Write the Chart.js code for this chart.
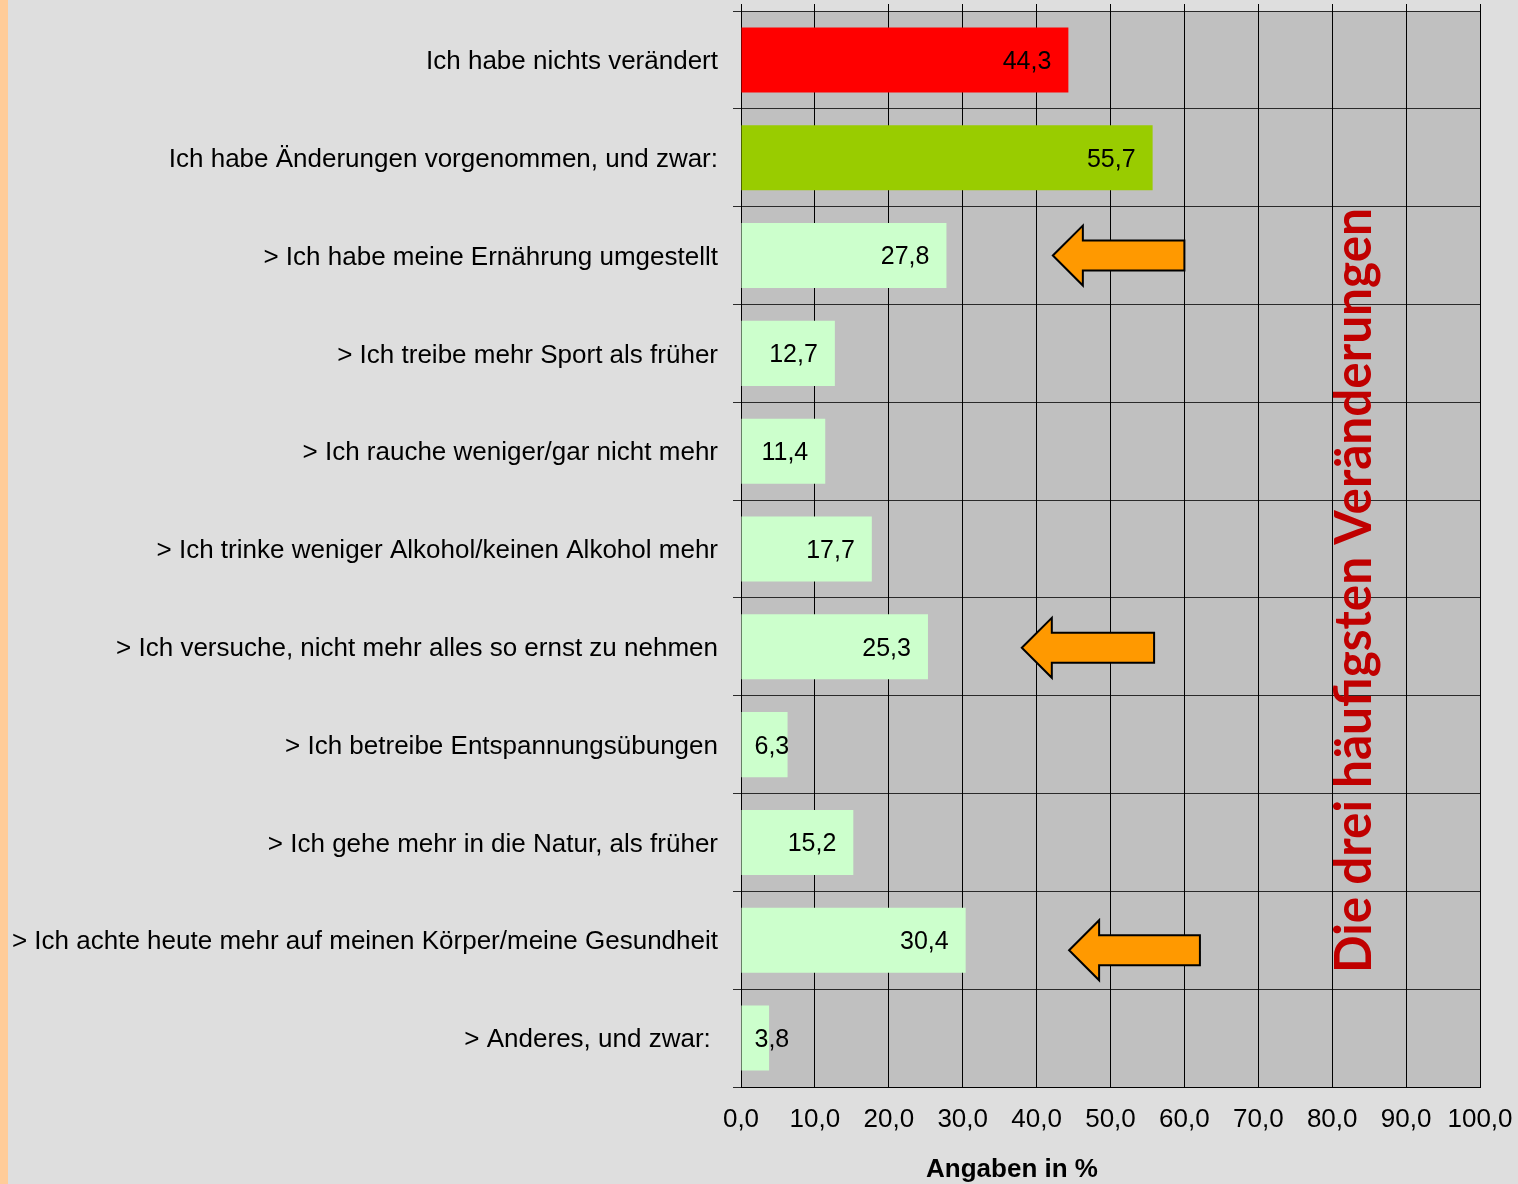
<!DOCTYPE html>
<html>
<head>
<meta charset="utf-8">
<script src="https://cdn.jsdelivr.net/npm/chart.js@4"></script>
<style>
  html, body { margin: 0; padding: 0; background: #DEDEDE; }
  #wrap { width: 1518px; height: 1184px; position: relative; }
</style>
</head>
<body>
<div id="wrap"><canvas id="c" width="1518" height="1184"></canvas></div>
<script>
// ---- data ----
const categories = [
  "Ich habe nichts verändert",
  "Ich habe Änderungen vorgenommen, und zwar:",
  "> Ich habe meine Ernährung umgestellt",
  "> Ich treibe mehr Sport als früher",
  "> Ich rauche weniger/gar nicht mehr",
  "> Ich trinke weniger Alkohol/keinen Alkohol mehr",
  "> Ich versuche, nicht mehr alles so ernst zu nehmen",
  "> Ich betreibe Entspannungsübungen",
  "> Ich gehe mehr in die Natur, als früher",
  "> Ich achte heute mehr auf meinen Körper/meine Gesundheit",
  "> Anderes, und zwar: "
];
const values = [44.3, 55.7, 27.8, 12.7, 11.4, 17.7, 25.3, 6.3, 15.2, 30.4, 3.8];
const barColors = ["#FF0000", "#99CC00", "#CCFFCC", "#CCFFCC", "#CCFFCC", "#CCFFCC",
                   "#CCFFCC", "#CCFFCC", "#CCFFCC", "#CCFFCC", "#CCFFCC"];
const xTicksMin = 0, xTicksMax = 100, xTickStep = 10;
const axisTitle = "Angaben in %";
const sideNote = "Die drei häufigsten Veränderungen";
const highlightedRows = [2, 6, 9];

const fmt = v => v.toFixed(1).replace('.', ',');
const FONT = "'Liberation Sans', Arial, sans-serif";

const bgPlugin = {
  id: 'bg',
  beforeDraw(chart) {
    const { ctx, chartArea: a } = chart;
    ctx.save();
    ctx.fillStyle = '#DEDEDE';
    ctx.fillRect(0, 0, chart.width, chart.height);
    ctx.fillStyle = '#FFCC99';
    ctx.fillRect(0, 0, 8, chart.height);
    ctx.fillStyle = '#C0C0C0';
    ctx.fillRect(a.left, a.top, a.right - a.left, a.bottom - a.top);
    ctx.restore();
  }
};

const labelPlugin = {
  id: 'vals',
  afterDatasetsDraw(chart) {
    const { ctx } = chart;
    const meta = chart.getDatasetMeta(0);
    ctx.save();
    ctx.font = `25px ${FONT}`;
    ctx.fillStyle = '#000';
    ctx.textBaseline = 'middle';
    ctx.textAlign = 'left';
    meta.data.forEach((bar, i) => {
      const txt = fmt(values[i]);
      const w = ctx.measureText(txt).width;
      let left = bar.x - 17 - w;
      const minLeft = bar.base + 13;
      if (left < minLeft) left = minLeft;
      ctx.fillText(txt, left, bar.y + 2);
    });
    ctx.restore();
  }
};

const annoPlugin = {
  id: 'anno',
  afterDraw(chart) {
    const { ctx, scales } = chart;
    const xs = scales.x, ys = scales.y;
    const arrows = [
      { row: highlightedRows[0], tip: 42.2, tail: 60.0, dy: 0 },
      { row: highlightedRows[1], tip: 38.0, tail: 55.9, dy: 1 },
      { row: highlightedRows[2], tip: 44.4, tail: 62.1, dy: 10 }
    ];
    ctx.save();
    arrows.forEach(a => {
      const cy = ys.getPixelForValue(a.row) + a.dy;
      const xt = xs.getPixelForValue(a.tip);
      const xe = xs.getPixelForValue(a.tail);
      const hl = 30, hh = 30, sh = 15;
      ctx.beginPath();
      ctx.moveTo(xt, cy);
      ctx.lineTo(xt + hl, cy - hh);
      ctx.lineTo(xt + hl, cy - sh);
      ctx.lineTo(xe, cy - sh);
      ctx.lineTo(xe, cy + sh);
      ctx.lineTo(xt + hl, cy + sh);
      ctx.lineTo(xt + hl, cy + hh);
      ctx.closePath();
      ctx.fillStyle = '#FF9900';
      ctx.fill();
      ctx.lineWidth = 2;
      ctx.strokeStyle = '#000';
      ctx.stroke();
    });
    ctx.font = `bold 51px Lato, 'Open Sans', sans-serif`;
    const w = ctx.measureText(sideNote).width;
    const target = 765;
    ctx.translate(1371, 973);
    ctx.rotate(-Math.PI / 2);
    ctx.scale(target / w, 1);
    ctx.fillStyle = '#C00000';
    ctx.textAlign = 'left';
    ctx.textBaseline = 'alphabetic';
    ctx.fillText(sideNote, 0, 0);
    ctx.restore();
    ctx.save();
    ctx.font = `bold 26px ${FONT}`;
    ctx.fillStyle = '#000';
    ctx.textAlign = 'center';
    ctx.textBaseline = 'middle';
    ctx.fillText(axisTitle, 1012, 1170);
    ctx.restore();
  }
};

new Chart(document.getElementById('c'), {
  type: 'bar',
  data: {
    labels: categories,
    datasets: [{
      data: values,
      backgroundColor: barColors,
      borderWidth: 0,
      barPercentage: 0.665,
      categoryPercentage: 1.0
    }]
  },
  options: {
    indexAxis: 'y',
    responsive: false,
    animation: false,
    devicePixelRatio: 1,
    layout: { padding: { left: 0, right: 38, top: 4, bottom: 0 } },
    plugins: { legend: { display: false }, tooltip: { enabled: false } },
    scales: {
      y: {
        type: 'category',
        grid: { offset: true, color: '#2a2a2a', lineWidth: 1, tickLength: 8, drawTicks: true },
        border: { display: true, color: '#000', width: 1 },
        ticks: { font: { family: FONT, size: 26 }, color: '#000', padding: 15, autoSkip: false, labelOffset: 2 },
        afterFit(scale) { scale.width = 741; scale.paddingTop = 0; scale.paddingBottom = 0; }
      },
      x: {
        position: 'bottom',
        min: xTicksMin, max: xTicksMax,
        grid: { color: '#000', lineWidth: 1, drawTicks: true, tickLength: 17, tickColor: 'rgba(0,0,0,0)' },
        border: { display: true, color: '#000', width: 1 },
        ticks: {
          stepSize: xTickStep,
          font: { family: FONT, size: 26 },
          color: '#000',
          padding: 0,
          maxRotation: 0,
          callback: v => fmt(v)
        },
        afterFit(scale) { scale.height = 97; }
      },
      x2: {
        position: 'top',
        axis: 'x',
        min: xTicksMin, max: xTicksMax,
        grid: { color: '#000', lineWidth: 1, drawOnChartArea: false, drawTicks: true, tickLength: 7 },
        border: { display: false },
        ticks: { display: false, stepSize: xTickStep, padding: 0 },
        afterFit(scale) { scale.height = 7; scale.paddingLeft = 0; scale.paddingRight = 0; }
      }
    }
  },
  plugins: [bgPlugin, labelPlugin, annoPlugin]
});
</script>
</body>
</html>
